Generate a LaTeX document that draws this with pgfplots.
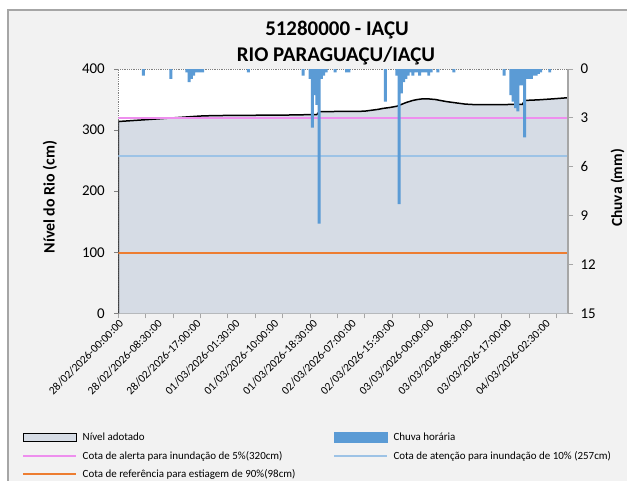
\documentclass[border=0pt]{standalone}
\usepackage{pgfplots}
\pgfplotsset{compat=1.18}
\usepackage{fontspec}
\setmainfont{Carlito}
\definecolor{bgc}{HTML}{F2F2F2}
\definecolor{areac}{HTML}{D6DCE5}
\definecolor{rainc}{HTML}{5B9BD5}
\definecolor{alertc}{HTML}{EE8FEE}
\definecolor{atenc}{HTML}{9DC3E6}
\definecolor{orangec}{RGB}{237,125,49}
\definecolor{axc}{HTML}{A6A6A6}
\begin{document}
\begin{tikzpicture}
\fill[white] (0bp,0bp) rectangle (627bp,481bp);
\fill[bgc] (8bp,0bp) rectangle (627bp,471bp);
\draw[axc, line width=1.5bp] (8bp,0bp) -- (8bp,471bp) -- (627bp,471bp);
\node[anchor=base, inner sep=0pt, font=\bfseries\fontsize{21}{24}\selectfont] at (337bp,445.3bp) {51280000 - IAÇU};
\node[anchor=base, inner sep=0pt, font=\bfseries\fontsize{21}{24}\selectfont] at (336bp,419.3bp) {RIO PARAGUAÇU/IAÇU};
\begin{axis}[
  at={(118.3bp,167.7bp)}, anchor=south west, scale only axis,
  width=449.7bp, height=244.3bp,
  xmin=0, xmax=98.5, ymin=0, ymax=400,
  axis background/.style={fill=white},
  axis x line=bottom, axis y line=left,
  x axis line style={-, axc, line width=1.5bp},
  y axis line style={-, densely dotted, gray, line width=0.8bp},
  /pgf/number format/assume math mode=true,
  tick align=outside, major tick length=4bp,
  ytick={0,100,...,400},
  ytick style={gray, line width=0.8bp},
  yticklabel style={font=\fontsize{15}{18}\selectfont, xshift=-6bp},
  xtick={0,8.5,...,93.5},
  xtick style={draw=none},
  xticklabels={28/02/2026-00:00:00,28/02/2026-08:30:00,28/02/2026-17:00:00,01/03/2026-01:30:00,01/03/2026-10:00:00,01/03/2026-18:30:00,02/03/2026-07:00:00,02/03/2026-15:30:00,03/03/2026-00:00:00,03/03/2026-08:30:00,03/03/2026-17:00:00,04/03/2026-02:30:00},
  xticklabel style={rotate=45, anchor=north east, font=\fontsize{11.5}{13}\selectfont, inner sep=1bp},
  extra x ticks={0,6,...,96},
  extra x tick labels={},
  extra x tick style={xtick style={draw=axc, line width=1bp}, major tick length=5bp},
  ylabel={Nível do Rio (cm)},
  ylabel style={font=\bfseries\fontsize{16}{19}\selectfont, at={(axis description cs:-0.152,0.476)}, anchor=center},
]
\addplot[fill=areac, draw=none] coordinates {(0,314) (2,315) (4,316) (6,317) (8,318) (10,319) (12,320) (14,321) (16,322) (18,323) (20,323.5) (24,324) (28,324) (32,324.5) (36,324.5) (40,325) (43.5,325.5) (44,330) (48,330.5) (52,330.5) (54,331) (55,332) (56,333) (57,334) (58,335.5) (59.5,337) (61,339) (62,342) (63,345) (64.5,348.5) (65.5,350) (66.5,351) (68,351) (69.5,350) (70.5,348.5) (72,346.5) (74,344.5) (76,342.5) (78.5,341.5) (82,341.5) (86.5,342) (88.5,342) (89,348.5) (92,349.5) (95,351) (98.5,353)} \closedcycle;
\addplot[black, line width=1.5bp] coordinates {(0,0) (0,314) (2,315) (4,316) (6,317) (8,318) (10,319) (12,320) (14,321) (16,322) (18,323) (20,323.5) (24,324) (28,324) (32,324.5) (36,324.5) (40,325) (43.5,325.5) (44,330) (48,330.5) (52,330.5) (54,331) (55,332) (56,333) (57,334) (58,335.5) (59.5,337) (61,339) (62,342) (63,345) (64.5,348.5) (65.5,350) (66.5,351) (68,351) (69.5,350) (70.5,348.5) (72,346.5) (74,344.5) (76,342.5) (78.5,341.5) (82,341.5) (86.5,342) (88.5,342) (89,348.5) (92,349.5) (95,351) (98.5,353)};
\addplot[draw=alertc, line width=1.8bp] coordinates {(0,320) (98.5,320)};
\addplot[draw=atenc, line width=1.8bp] coordinates {(0,257) (98.5,257)};
\addplot[draw=orangec, line width=2bp] coordinates {(0,98) (98.5,98)};
\draw[densely dotted, gray, line width=0.8bp] (axis cs:0,400) -- (axis cs:98.5,400);
\end{axis}
\begin{axis}[
  at={(118.3bp,167.7bp)}, anchor=south west, scale only axis,
  width=449.7bp, height=244.3bp,
  xmin=0, xmax=98.5, ymin=0, ymax=15, y dir=reverse,
  axis x line=none, axis y line=right,
  y axis line style={-, axc, line width=1.5bp},
  /pgf/number format/assume math mode=true,
  tick align=outside, major tick length=5bp,
  ytick={0,3,...,15},
  ytick style={axc, line width=1bp},
  yticklabel style={font=\fontsize{15}{18}\selectfont, xshift=4bp},
  ylabel={Chuva (mm)},
  ylabel style={font=\bfseries\fontsize{15.5}{18}\selectfont, at={(axis description cs:1.110,0.513)}, anchor=center},
  legend style={at={(axis description cs:-0.2141,-0.486)}, anchor=north west, draw=none, fill=none,
    font=\fontsize{11}{13}\selectfont, inner sep=0pt, row sep=8bp,
    nodes={inner sep=0.5bp},
    /tikz/every odd column/.append style={column sep=5bp},
    /tikz/every even column/.append style={column sep=4bp}},
  legend columns=2, legend cell align=left,
]
\addplot[ybar, bar width=0.65, fill=rainc, draw=none, forget plot] coordinates {
(5.5,0.4) (11.5,0.6) (15.0,0.2) (15.5,0.8) (16.0,0.6) (16.5,0.4) (17.0,0.2) (17.5,0.2) (18.0,0.2) (18.5,0.2)
(28.5,0.2) (40.5,0.4) (42.0,0.6) (42.5,3.6) (43.0,1.6) (43.5,2.2) (44.0,9.5) (44.5,0.6) (45.0,0.4) (45.5,0.2)
(47.5,0.2) (50.0,0.2) (50.5,0.2) (58.5,2.0) (61.0,0.4) (61.5,8.3) (62.0,1.5) (62.5,0.8) (63.0,0.6) (63.5,0.4)
(64.0,0.2) (64.5,0.4) (65.0,0.2) (65.5,0.2) (66.0,0.4) (66.5,0.2) (67.0,0.2) (67.5,0.2) (68.0,0.4) (68.5,0.2)
(70.0,0.2) (73.5,0.2) (84.5,0.4) (86.0,1.6) (86.5,2.0) (87.0,2.4) (87.5,2.6) (88.0,1.0) (88.5,1.0) (89.0,4.2)
(89.5,0.6) (90.0,0.6) (90.5,0.6) (91.0,0.4) (91.5,0.4) (92.0,0.3) (92.5,0.2) (94.5,0.2)};
\addlegendimage{legend image code/.code={\draw[fill=areac, draw=black, line width=1.2bp] (0bp,-4bp) rectangle (53bp,4bp);}}
\addlegendentry{\makebox[246bp][l]{Nível adotado}}
\addlegendimage{legend image code/.code={\fill[rainc] (0bp,-5bp) rectangle (53bp,5bp);}}
\addlegendentry{Chuva horária}
\addlegendimage{legend image code/.code={\draw[draw=alertc, line width=1.8bp] (0bp,0bp) -- (53bp,0bp);}}
\addlegendentry{\makebox[246bp][l]{Cota de alerta para inundação de 5\%(320cm)}}
\addlegendimage{legend image code/.code={\draw[draw=atenc, line width=1.8bp] (0bp,0bp) -- (53bp,0bp);}}
\addlegendentry{Cota de atenção para inundação de 10\% (257cm)}
\addlegendimage{legend image code/.code={\draw[draw=orangec, line width=2bp] (0bp,0bp) -- (53bp,0bp);}}
\addlegendentry{\makebox[246bp][l]{Cota de referência para estiagem de 90\%(98cm)}}
\end{axis}
\pgfresetboundingbox
\path[use as bounding box] (0bp,0bp) rectangle (627bp,481bp);
\end{tikzpicture}
\end{document}
